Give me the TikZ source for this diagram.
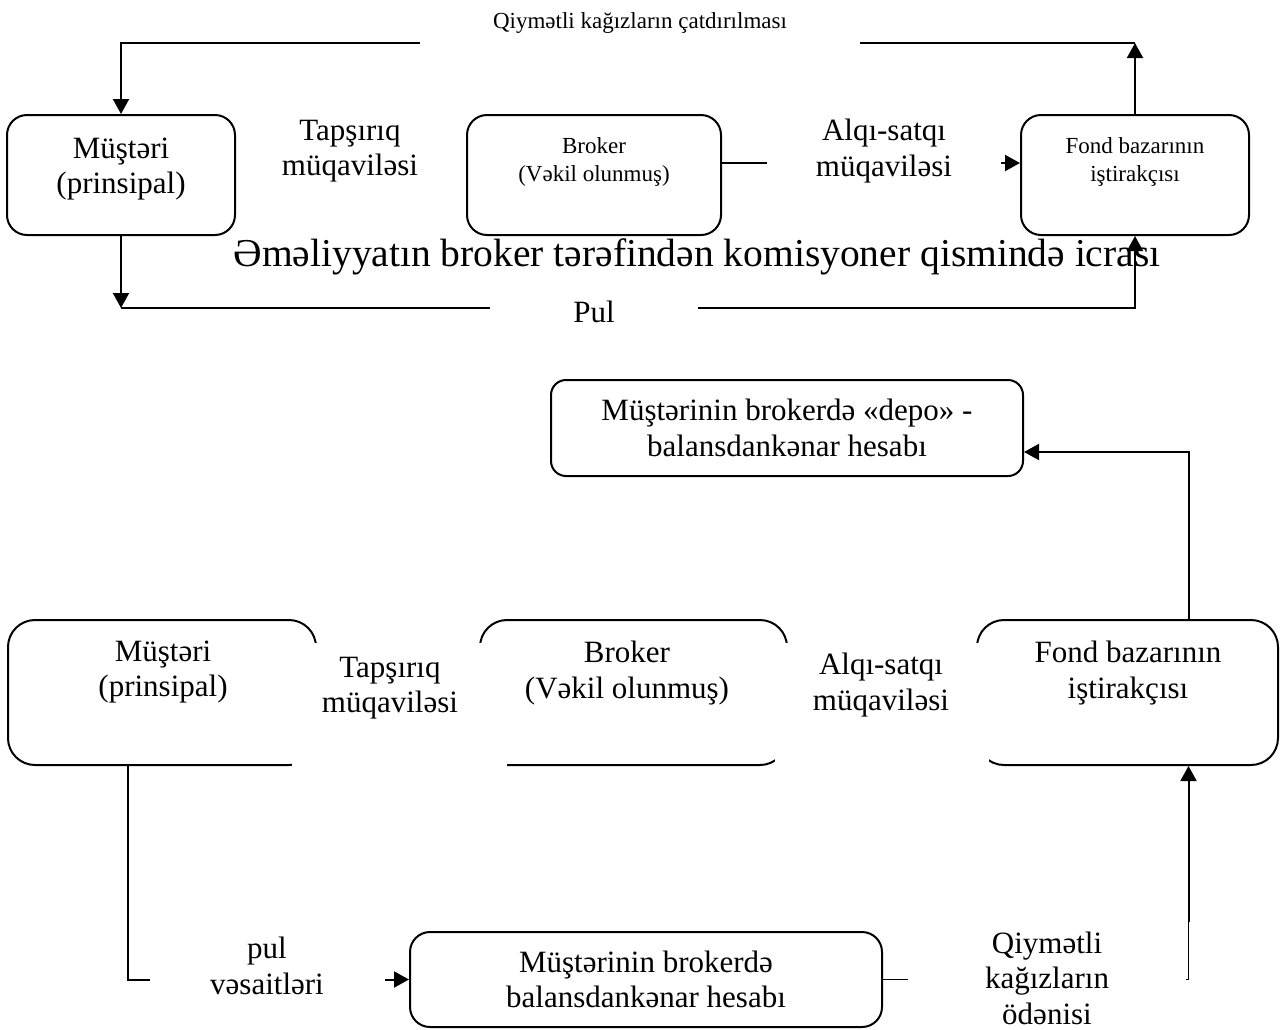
\documentclass[tikz,border=0pt]{standalone}
\usepackage{fontspec}
\setmainfont{Liberation Serif}
\usetikzlibrary{arrows.meta}

\tikzset{
    box/.style={draw, line width=2pt, rounded corners=20pt, inner sep=0pt},
    bigbox/.style={box, rounded corners=27pt, minimum height=145pt},
    big/.style={font=\fontsize{31}{35.6}\selectfont, align=center, inner sep=0pt},
    small/.style={font=\fontsize{23}{28}\selectfont, align=center, inner sep=0pt},
    mask/.style={fill=white},
    link/.style={line width=2pt},
}

\begin{document}
\begin{tikzpicture}[x=1pt, y=-1pt, link, >={Triangle[length=15pt, width=16pt]}]
    \useasboundingbox (0,0) rectangle (1280,1029);

    \node [box, minimum width=228pt, minimum height=120pt] (mus1) at (121,175) {};
    \node [box, minimum width=254pt, minimum height=120pt] (brok1) at (594,175) {};
    \node [box, minimum width=228pt, minimum height=120pt] (fond1) at (1135,175) {};
    \node [big] (mus1t) at (121,169) {Müştəri\\(prinsipal)};
    \node [small] (brok1t) at (594,162) {Broker\\(Vəkil olunmuş)};
    \node [small] (fond1t) at (1135,162) {Fond bazarının\\iştirakçısı};
    \node [font=\fontsize{39.5}{47}\selectfont] (icra) at (697,257) {Əməliyyatın broker tərəfindən komisyoner qismində icrası};

    \coordinate (qr) at (1135,43);
    \coordinate (pl) at (121,308);
    \draw [->] (fond1.north) -- (qr);
    \draw [->] (qr) -| (mus1.north);
    \draw [->] (mus1.south) -- (pl);
    \draw [->] (pl) -| (fond1.south);
    \draw [->] ([yshift=12pt]brok1.east) -- ([yshift=12pt]fond1.west);

    \node [small, mask, minimum width=440pt, minimum height=46pt] (qiy1) at (640,23) {Qiymətli kağızların çatdırılması};
    \node [big] (tap1) at (350,151) {Tapşırıq\\müqaviləsi};
    \node [big, mask, minimum width=234pt, minimum height=80pt] (alq1) at (884,151) {Alqı-satqı\\müqaviləsi};
    \node [big, mask, minimum width=208pt, minimum height=36pt] (pul1) at (594,312) {Pul};

    \node [box, rounded corners=15pt, minimum width=472pt, minimum height=96pt, big] (depo) at (787,428) {Müştərinin brokerdə «depo» -\\balansdankənar hesabı};
    \node [bigbox, minimum width=308pt] (mus2) at (162,692.5) {};
    \node [bigbox, minimum width=307pt] (brok2) at (633.5,692.5) {};
    \node [bigbox, minimum width=301pt] (fond2) at (1127.5,692.5) {};
    \node [box, minimum width=472pt, minimum height=95pt, big] (bbox) at (646,979.5) {Müştərinin brokerdə\\balansdankənar hesabı};

    \coordinate (fq) at (1188.5,922);
    \draw [->] ([xshift=61pt]fond2.north) |- ([yshift=-24pt]depo.east);
    \draw [->] ([xshift=-34pt]mus2.south) |- (bbox.west);
    \draw [line width=1pt] (bbox.east) -| (fq);
    \draw [->] (fq) -- (fq |- fond2.south);

    \fill [white] (292,643) rectangle (507,775);
    \fill [white] (775,643) rectangle (989,775);
    \node [big] (mus2t) at (163,672) {Müştəri\\(prinsipal)};
    \node [big] (brok2t) at (627,673) {Broker\\(Vəkil olunmuş)};
    \node [big] (fond2t) at (1128,673) {Fond bazarının\\iştirakçısı};
    \node [big] (tap2) at (390,688) {Tapşırıq\\müqaviləsi};
    \node [big] (alq2) at (881,685) {Alqı-satqı\\müqaviləsi};
    \node [big, mask, minimum width=235pt, minimum height=80pt] (pulv) at (267,966) {pul\\vəsaitləri};
    \node [big, mask, minimum width=278pt, minimum height=100pt] (qiy2) at (1047,978) {Qiymətli\\kağızların\\ödənisi};
\end{tikzpicture}
\end{document}
